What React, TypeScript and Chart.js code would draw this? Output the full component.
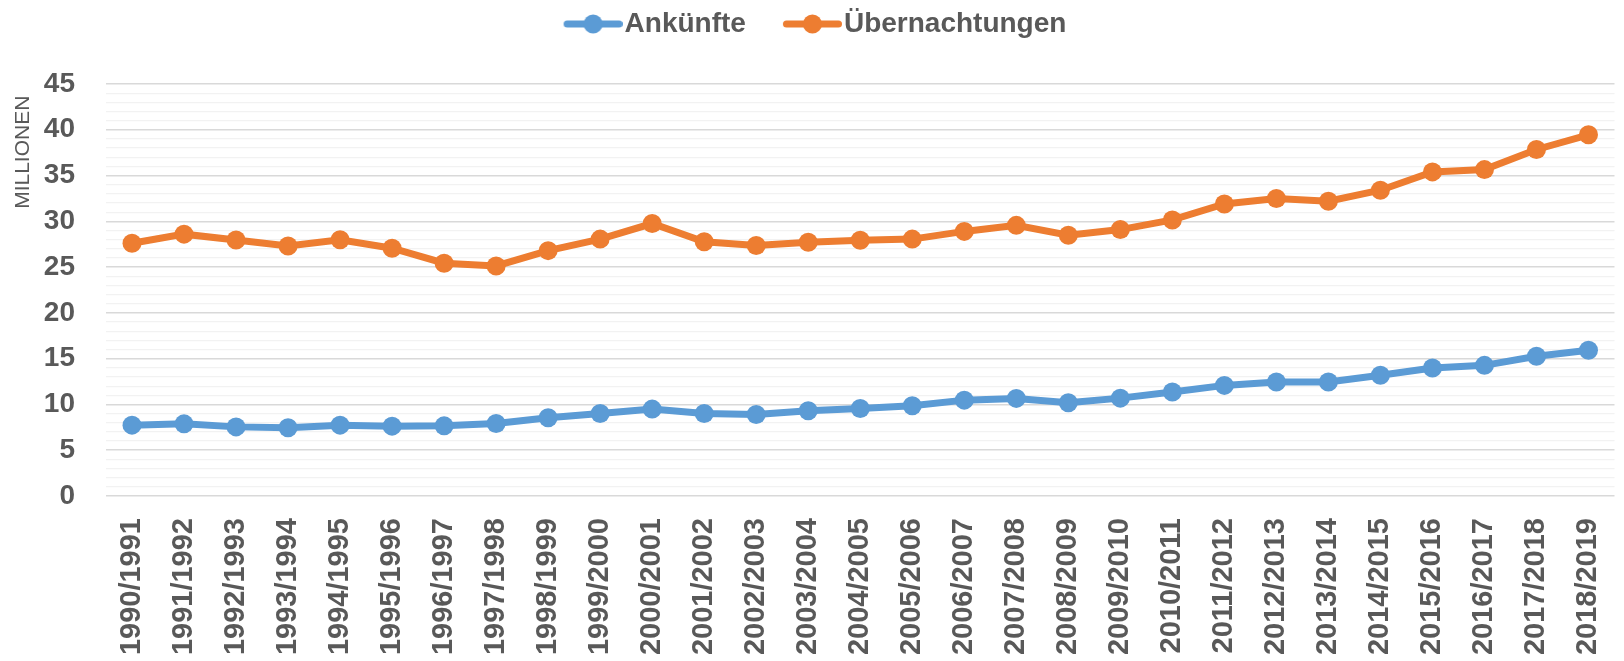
import React, { useEffect, useRef } from 'react';
import { Chart, registerables } from 'chart.js';

Chart.register(...registerables);

const categories = [
  '1990/1991', '1991/1992', '1992/1993', '1993/1994', '1994/1995', '1995/1996',
  '1996/1997', '1997/1998', '1998/1999', '1999/2000', '2000/2001', '2001/2002',
  '2002/2003', '2003/2004', '2004/2005', '2005/2006', '2006/2007', '2007/2008',
  '2008/2009', '2009/2010', '2010/2011', '2011/2012', '2012/2013', '2013/2014',
  '2014/2015', '2015/2016', '2016/2017', '2017/2018', '2018/2019',
];

const ankuenfte = [
  7.74, 7.88, 7.55, 7.45, 7.74, 7.63, 7.66, 7.92, 8.54, 9.01,
  9.49, 9.01, 8.9, 9.31, 9.56, 9.85, 10.47, 10.66, 10.18, 10.69,
  11.35, 12.08, 12.45, 12.45, 13.18, 13.98, 14.27, 15.26, 15.91,
];

const uebernachtungen = [
  27.6, 28.6, 27.97, 27.3, 27.98, 27.06, 25.43, 25.13, 26.8, 28.06,
  29.76, 27.76, 27.36, 27.72, 27.93, 28.06, 28.9, 29.56, 28.48, 29.1,
  30.15, 31.9, 32.5, 32.2, 33.4, 35.4, 35.65, 37.85, 39.45,
];

const seriesNames = ['Ankünfte', 'Übernachtungen'];
const seriesColors = ['#5B9BD5', '#ED7D31'];

const yMin = 0;
const yMax = 45;
const yMajorStep = 5;

const FONT = "'Liberation Sans', Arial, sans-serif";
const TEXT = '#595959';

function legendMarker(color: string) {
  const c = document.createElement('canvas');
  c.width = 80;
  c.height = 24;
  const ctx = c.getContext('2d')!;
  ctx.strokeStyle = color;
  ctx.lineWidth = 7;
  ctx.lineCap = 'round';
  ctx.beginPath();
  ctx.moveTo(24.5, 12);
  ctx.lineTo(76.5, 12);
  ctx.stroke();
  ctx.fillStyle = color;
  ctx.beginPath();
  ctx.arc(50.5, 12, 9.5, 0, Math.PI * 2);
  ctx.fill();
  return c;
}

const legendSpacer = {
  id: 'legendSpacer',
  beforeInit(chart: any) {
    const lg = chart.legend;
    if (!lg) return;
    const orig = lg.fit;
    lg.fit = function () {
      orig.call(this);
      this.height = 102;
    };
  },
};

export default function App() {
  const ref = useRef<HTMLCanvasElement | null>(null);

  useEffect(() => {
    if (!ref.current) return;
    const markers = seriesColors.map((c) => legendMarker(c));
    const data = [ankuenfte, uebernachtungen];
    const chart = new Chart(ref.current, {
      type: 'line',
      data: {
        labels: categories,
        datasets: data.map((d, i) => ({
          label: seriesNames[i],
          data: d,
          borderColor: seriesColors[i],
          backgroundColor: seriesColors[i],
          borderWidth: 7,
          pointRadius: 9.5,
          pointHoverRadius: 9.5,
          pointBackgroundColor: seriesColors[i],
          pointBorderColor: seriesColors[i],
          pointBorderWidth: 0,
          tension: 0,
          fill: false,
        })),
      },
      options: {
        animation: false,
        responsive: false,
        devicePixelRatio: 1,
        layout: { padding: { top: -18, right: 3, left: 0, bottom: 0 } },
        plugins: {
          tooltip: { enabled: false },
          legend: {
            display: true,
            position: 'top',
            align: 'center',
            labels: {
              usePointStyle: true,
              pointStyleWidth: 56,
              padding: 28,
              color: TEXT,
              font: { family: FONT, size: 28, weight: 'bold' },
              generateLabels: (chart: any) => {
                const items = Chart.defaults.plugins.legend.labels.generateLabels(chart);
                return items.map((it: any, i: number) => ({
                  ...it,
                  pointStyle: markers[i],
                  fontColor: TEXT,
                }));
              },
            },
          },
        },
        scales: {
          x: {
            type: 'category',
            offset: true,
            afterFit: (s: any) => {
              s.height = 165;
              s.paddingLeft = 0;
              s.paddingRight = 0;
            },
            border: { display: false },
            grid: { display: false, drawTicks: false },
            ticks: {
              autoSkip: false,
              maxRotation: 90,
              minRotation: 90,
              padding: 22,
              color: TEXT,
              font: { family: FONT, size: 29, weight: 'bold' },
            },
          },
          y: {
            type: 'linear',
            min: yMin,
            max: yMax,
            afterFit: (s: any) => {
              s.width = 106;
            },
            border: { display: false },
            grid: {
              drawTicks: false,
              color: (c: any) =>
                c.tick && c.tick.value % yMajorStep === 0 ? '#d9d9d9' : '#f2f2f2',
              lineWidth: (c: any) =>
                c.tick && c.tick.value % yMajorStep === 0 ? 1.5 : 1.2,
            },
            ticks: {
              stepSize: 1,
              autoSkip: false,
              padding: 31,
              color: TEXT,
              font: { family: FONT, size: 28, weight: 'bold' },
              callback: (v: any) => (Number(v) % yMajorStep === 0 ? String(v) : ''),
            },
            title: {
              display: true,
              text: 'MILLIONEN  ',
              align: 'end',
              color: TEXT,
              font: { family: FONT, size: 21, weight: 'normal' },
              padding: { top: 11, bottom: 0 },
            },
          },
        },
      },
      plugins: [legendSpacer],
    } as any);
    return () => chart.destroy();
  }, []);

  return (
    <div style={{ position: 'absolute', left: 0, top: 0, width: 1624, height: 661, background: '#fff' }}>
      <canvas ref={ref} width={1624} height={661} style={{ display: 'block' }} />
    </div>
  );
}
